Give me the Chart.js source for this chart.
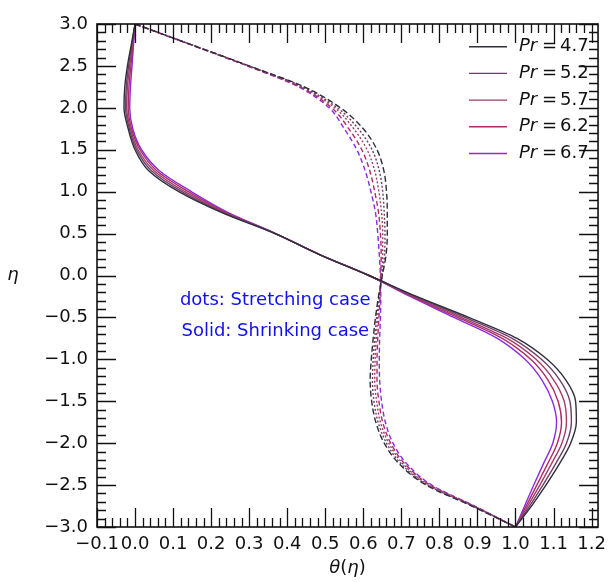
<!DOCTYPE html>
<html>
<head>
<meta charset="utf-8">
<script src="https://cdn.jsdelivr.net/npm/chart.js@4/dist/chart.umd.min.js"></script>
<style>
  body { margin: 0; background: #fff; }
  canvas { display: block; }
</style>
</head>
<body>
<canvas id="chart" width="613" height="582"></canvas>
<script>
// Pr values (legend) and the similarity variable eta
var prValues = [4.7, 5.2, 5.7, 6.2, 6.7];
var eta = [3, 2.75, 2.5, 2.25, 2.0, 1.75, 1.5, 1.25, 1.0, 0.75, 0.5, 0.25, 0,
    -0.25, -0.5, -0.75, -1.0, -1.25, -1.5, -1.75, -2.0, -2.25, -2.5, -2.75, -3];

// theta(eta), shrinking case (solid lines)
var shrink47 = [0, -0.010, -0.020, -0.027, -0.029, -0.018, 0.000, 0.036, 0.115, 0.228, 0.368, 0.485, 0.615,
    0.740, 0.877, 1.004, 1.083, 1.133, 1.158, 1.160, 1.145, 1.115, 1.080, 1.042, 1.0];
var shrink52 = [0, -0.0085, -0.017, -0.023, -0.025, -0.015, 0.004, 0.043, 0.123, 0.232, 0.368, 0.485, 0.615,
    0.736, 0.867, 0.991, 1.068, 1.117, 1.143, 1.147, 1.134, 1.105, 1.072, 1.037, 1.0];
var shrink57 = [0, -0.007, -0.014, -0.020, -0.022, -0.012, 0.008, 0.050, 0.131, 0.236, 0.369, 0.485, 0.615,
    0.731, 0.857, 0.978, 1.054, 1.101, 1.128, 1.134, 1.122, 1.094, 1.064, 1.032, 1.0];
var shrink62 = [0, -0.0055, -0.011, -0.016, -0.018, -0.009, 0.013, 0.057, 0.140, 0.240, 0.369, 0.485, 0.615,
    0.727, 0.848, 0.965, 1.040, 1.086, 1.112, 1.121, 1.110, 1.084, 1.056, 1.028, 1.0];
var shrink67 = [0, -0.004, -0.008, -0.012, -0.014, -0.006, 0.017, 0.064, 0.148, 0.245, 0.370, 0.485, 0.615,
    0.723, 0.838, 0.952, 1.025, 1.070, 1.097, 1.108, 1.098, 1.073, 1.048, 1.024, 1.0];

// theta(eta), stretching case (dotted/dashed lines)
var stretch47 = [0, 0.150, 0.300, 0.445, 0.540, 0.600, 0.636, 0.654, 0.661, 0.663, 0.663, 0.660, 0.650,
    0.640, 0.632, 0.626, 0.621, 0.618, 0.622, 0.633, 0.655, 0.695, 0.765, 0.885, 1.0];
var stretch52 = [0, 0.150, 0.299, 0.441, 0.532, 0.587, 0.623, 0.642, 0.651, 0.655, 0.657, 0.656, 0.649,
    0.641, 0.635, 0.630, 0.626, 0.624, 0.628, 0.639, 0.661, 0.700, 0.769, 0.887, 1.0];
var stretch57 = [0, 0.149, 0.298, 0.438, 0.525, 0.575, 0.610, 0.630, 0.641, 0.648, 0.651, 0.651, 0.648,
    0.643, 0.638, 0.634, 0.631, 0.630, 0.635, 0.645, 0.667, 0.705, 0.772, 0.889, 1.0];
var stretch62 = [0, 0.149, 0.297, 0.434, 0.517, 0.562, 0.596, 0.617, 0.630, 0.640, 0.645, 0.647, 0.646,
    0.644, 0.641, 0.638, 0.636, 0.636, 0.641, 0.651, 0.672, 0.710, 0.776, 0.891, 1.0];
var stretch67 = [0, 0.148, 0.295, 0.430, 0.510, 0.550, 0.583, 0.605, 0.620, 0.632, 0.638, 0.642, 0.645,
    0.646, 0.645, 0.643, 0.642, 0.643, 0.648, 0.658, 0.678, 0.715, 0.780, 0.893, 1.0];

var colors = ['#2f2f3c', '#6e3f6c', '#a23d68', '#b02a66', '#8a2be2'];
var dashes = [[6, 3], [2, 2], [2, 2], [5, 3], [5, 3]];
var shrinkSets = [shrink47, shrink52, shrink57, shrink62, shrink67];
var stretchSets = [stretch47, stretch52, stretch57, stretch62, stretch67];

function toPoints(theta) {
    return theta.map(function (t, i) { return { x: t, y: eta[i] }; });
}

var datasets = [];
shrinkSets.forEach(function (s, i) {
    datasets.push({
        label: 'Pr = ' + prValues[i] + ' shrinking',
        data: toPoints(s),
        borderColor: colors[i],
        borderWidth: 1.4,
        pointRadius: 0,
        cubicInterpolationMode: 'monotone',
        order: 1
    });
});
stretchSets.forEach(function (s, i) {
    datasets.push({
        label: 'Pr = ' + prValues[i] + ' stretching',
        data: toPoints(s),
        borderColor: colors[i],
        borderWidth: 1.4,
        borderDash: dashes[i],
        pointRadius: 0,
        cubicInterpolationMode: 'monotone',
        order: 2
    });
});

var FONT = "'DejaVu Sans', sans-serif";

// inward ticks on all sides, frame, legend, labels
var decorations = {
    id: 'decorations',
    afterDraw: function (chart) {
        var ctx = chart.ctx;
        var xs = chart.scales.x, ys = chart.scales.y;
        var a = chart.chartArea;
        ctx.save();
        ctx.strokeStyle = '#111';
        ctx.lineWidth = 1.3;
        ctx.beginPath();
        var v, p, i;
        for (i = 0; i <= 65; i++) {
            v = -0.1 + i * 0.02;
            p = Math.round(xs.getPixelForValue(v)) + 0.5;
            var len = (i % 5 === 0) ? 19 : 9;
            ctx.moveTo(p, a.bottom); ctx.lineTo(p, a.bottom - len);
            ctx.moveTo(p, a.top); ctx.lineTo(p, a.top + len);
        }
        for (i = 0; i <= 60; i++) {
            v = -3 + i * 0.1;
            p = Math.round(ys.getPixelForValue(v)) + 0.5;
            var len2 = (i % 5 === 0) ? 19 : 9;
            ctx.moveTo(a.left, p); ctx.lineTo(a.left + len2, p);
            ctx.moveTo(a.right, p); ctx.lineTo(a.right - len2, p);
        }
        ctx.stroke();
        ctx.lineWidth = 1.6;
        ctx.strokeRect(a.left, a.top, a.right - a.left, a.bottom - a.top);

        // legend
        ctx.textBaseline = 'middle';
        for (i = 0; i < prValues.length; i++) {
            var y = 46.7 + i * 26.7;
            ctx.strokeStyle = colors[i];
            ctx.lineWidth = 1.4;
            ctx.beginPath();
            ctx.moveTo(469, y); ctx.lineTo(507, y);
            ctx.stroke();
            ctx.fillStyle = '#111';
            ctx.font = 'italic 18px ' + FONT;
            ctx.textAlign = 'left';
            ctx.fillText('Pr', 519, y);
            ctx.font = '18px ' + FONT;
            ctx.textAlign = 'center';
            ctx.fillText('=', 549.5, y);
            ctx.textAlign = 'left';
            ctx.fillText(prValues[i].toFixed(1), 560, y);
        }

        // annotations
        ctx.fillStyle = '#1010f0';
        ctx.font = '18px ' + FONT;
        ctx.textAlign = 'left';
        ctx.fillText('dots: Stretching case', xs.getPixelForValue(0.118), ys.getPixelForValue(-0.30));
        ctx.fillText('Solid: Shrinking case', xs.getPixelForValue(0.122), ys.getPixelForValue(-0.67));

        // y title
        ctx.fillStyle = '#111';
        ctx.font = 'italic 18px ' + FONT;
        ctx.textAlign = 'center';
        ctx.fillText('\u03b7', 13, ys.getPixelForValue(0));

        // x title  theta(eta)
        var parts = [['\u03b8', 'italic'], ['(', ''], ['\u03b7', 'italic'], [')', '']];
        var total = 0;
        parts.forEach(function (q) {
            ctx.font = (q[1] ? q[1] + ' ' : '') + '18px ' + FONT;
            total += ctx.measureText(q[0]).width;
        });
        var cx = (a.left + a.right) / 2 - total / 2;
        ctx.textAlign = 'left';
        parts.forEach(function (q) {
            ctx.font = (q[1] ? q[1] + ' ' : '') + '18px ' + FONT;
            ctx.fillText(q[0], cx, 568);
            cx += ctx.measureText(q[0]).width;
        });
        ctx.restore();
    }
};

function minusFmt(v) {
    var s = Number(v).toFixed(1);
    return s.replace('-', '\u2212');
}

new Chart(document.getElementById('chart'), {
    type: 'line',
    data: { datasets: datasets },
    options: {
        indexAxis: 'y',
        responsive: false,
        animation: false,
        devicePixelRatio: 1,
        layout: { padding: { top: 24, right: 9, left: 0, bottom: 0 } },
        plugins: {
            legend: { display: false },
            tooltip: { enabled: false }
        },
        scales: {
            x: {
                type: 'linear',
                min: -0.1,
                max: 1.217,
                grid: { display: false, drawTicks: false },
                border: { display: false },
                ticks: {
                    stepSize: 0.1,
                    includeBounds: false,
                    maxRotation: 0,
                    autoSkip: false,
                    padding: 7,
                    color: '#111',
                    font: { family: FONT, size: 18 },
                    callback: function (v) { return minusFmt(v); }
                },
                afterFit: function (scale) { scale.height = 55; }
            },
            y: {
                type: 'linear',
                min: -3,
                max: 3,
                grid: { display: false, drawTicks: false },
                border: { display: false },
                ticks: {
                    stepSize: 0.5,
                    autoSkip: false,
                    padding: 9,
                    color: '#111',
                    font: { family: FONT, size: 18 },
                    callback: function (v) { return minusFmt(v); }
                },
                afterFit: function (scale) { scale.width = 97; }
            }
        }
    },
    plugins: [decorations]
});
</script>
</body>
</html>
